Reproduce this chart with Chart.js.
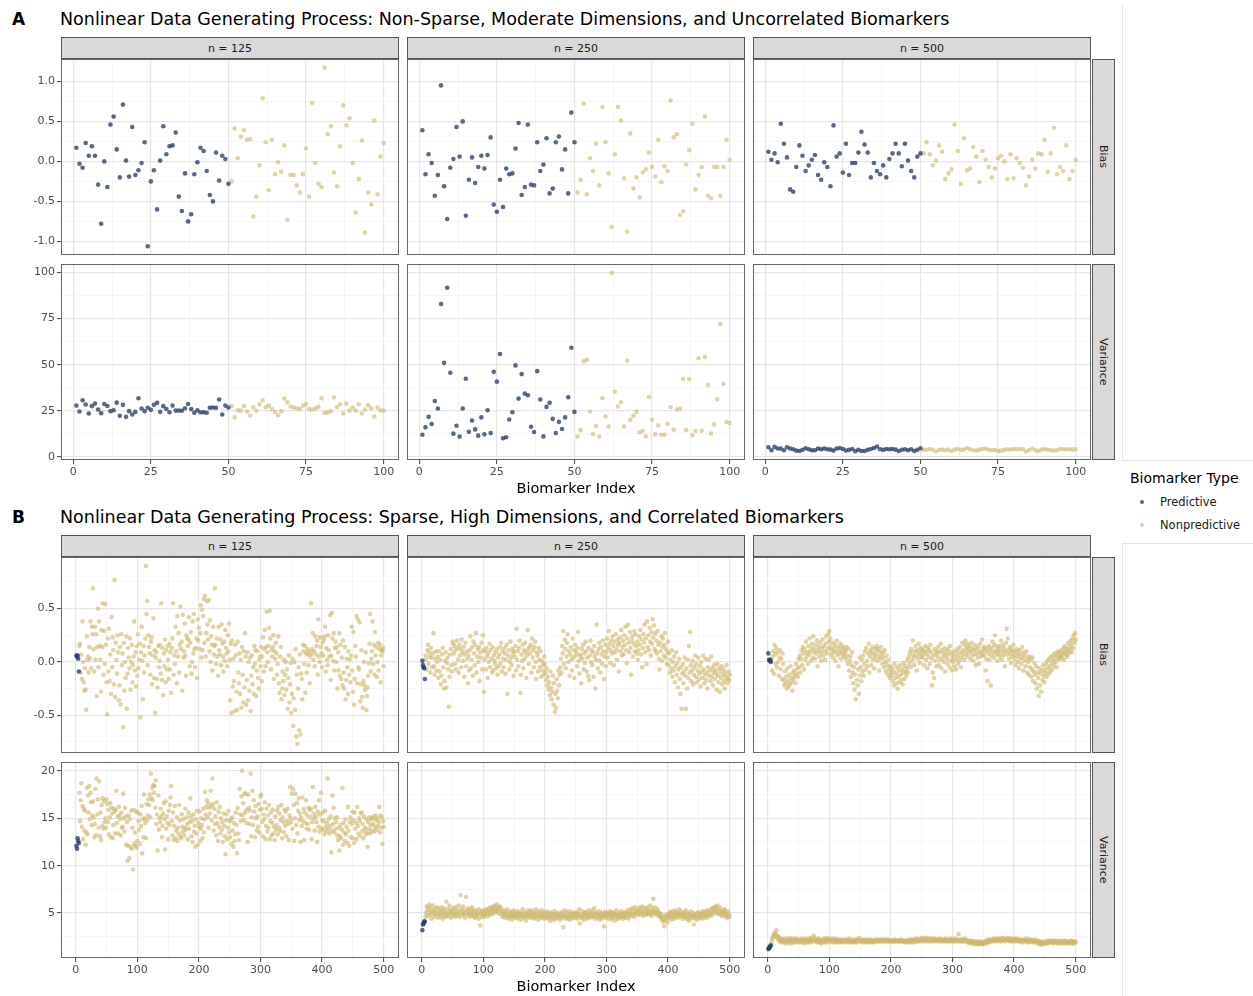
<!DOCTYPE html>
<html>
<head>
<meta charset="utf-8">
<script src="https://cdn.jsdelivr.net/npm/chart.js@4.4.1/dist/chart.umd.min.js"></script>
<style>
  body { margin: 0; background: #fff; font-family: "DejaVu Sans", sans-serif; }
  #page { position: relative; width: 1253px; height: 996px; overflow: hidden; background: #fff; }
  .txt { position: absolute; white-space: nowrap; line-height: 20px; color: #000; }
  .tag { font-weight: bold; font-size: 17px; }
  .title { font-size: 17.5px; }
  .xtitle { font-size: 14.5px; width: 400px; text-align: center; }
  .strip { position: absolute; box-sizing: border-box; background: #d9d9d9; border: 1px solid #555;
           font-size: 11px; color: #1a1a1a; display: flex; align-items: center; justify-content: center; }
  .strip.v span { writing-mode: vertical-rl; }
  .rule { position: absolute; background: #e4e4e4; }
  .dot { position: absolute; width: 4px; height: 4px; border-radius: 50%; }
  canvas { position: absolute; }
</style>
</head>
<body>
<div id="page"></div>
<script>
// ---------------- data ----------------
const columnLabels = ['n = 125', 'n = 250', 'n = 500'];
const rowLabels = ['Bias', 'Variance'];
const seriesNames = ['Predictive', 'Nonpredictive'];
const predictiveCountA = 50;   // biomarkers 1-50 predictive in section A
const predictiveCountB = 5;    // biomarkers 1-5 predictive in section B

const xTicksA = [0, 25, 50, 75, 100];
const xTicksB = [0, 100, 200, 300, 400, 500];
const yTicksABias = [-1, -0.5, 0, 0.5, 1];
const yLabelsABias = ['-1.0', '-0.5', '0.0', '0.5', '1.0'];
const yTicksAVar = [0, 25, 50, 75, 100];
const yLabelsAVar = ['0', '25', '50', '75', '100'];
const yTicksBBias = [-0.5, 0, 0.5];
const yLabelsBBias = ['-0.5', '0.0', '0.5'];
const yTicksBVar = [5, 10, 15, 20];
const yLabelsBVar = ['5', '10', '15', '20'];

// Section A: biomarkers 1..100
const aBias125 = [
  0.17,-0.03,-0.08,0.23,0.07,0.19,0.07,-0.29,-0.78,0.00,
  -0.32,0.46,0.56,0.15,-0.20,0.71,0.01,-0.19,0.43,-0.17,
  -0.11,-0.02,0.24,-1.06,-0.25,-0.11,-0.60,0.01,0.44,0.09,
  0.19,0.20,0.36,-0.44,-0.62,-0.15,-0.75,-0.66,-0.16,-0.01,
  0.17,0.13,-0.12,-0.42,-0.50,0.11,-0.24,0.07,0.03,-0.28,
  -0.25,0.41,0.04,0.31,0.39,0.27,0.28,-0.69,-0.44,-0.05,
  0.79,0.24,-0.36,0.27,-0.16,-0.01,-0.13,0.20,-0.73,-0.17,
  -0.17,-0.30,-0.39,-0.16,0.16,-0.44,0.73,-0.02,-0.28,-0.32,
  1.17,0.34,0.44,-0.14,-0.31,0.19,0.70,0.45,0.54,-0.02,
  -0.64,-0.22,0.26,-0.89,-0.39,-0.54,0.51,-0.41,0.06,0.23];
const aBias250 = [
  0.39,-0.16,0.09,-0.02,-0.43,-0.17,0.95,-0.31,-0.72,-0.08,
  0.03,0.43,0.06,0.50,-0.68,-0.23,0.05,-0.27,-0.07,0.07,
  -0.09,0.08,0.30,-0.54,-0.63,-0.23,-0.57,-0.09,-0.16,-0.15,
  0.16,0.48,-0.42,-0.32,0.46,-0.29,-0.30,0.24,-0.12,-0.04,
  0.29,-0.40,-0.34,0.24,0.31,-0.10,0.15,-0.40,0.61,0.24,
  -0.39,-0.23,0.72,-0.41,0.04,-0.12,0.22,-0.30,0.68,0.24,
  -0.15,-0.82,0.09,0.68,0.51,-0.21,-0.88,0.35,-0.34,-0.20,
  -0.45,-0.14,-0.10,0.11,-0.07,-0.19,0.27,-0.26,-0.06,-0.12,
  0.76,0.30,0.34,-0.67,-0.62,-0.04,0.14,0.47,-0.35,-0.17,
  -0.07,0.56,-0.43,-0.46,-0.07,-0.07,-0.43,-0.07,0.27,0.02];
const aBias500 = [
  0.12,0.02,0.10,-0.01,0.47,0.22,0.05,-0.35,-0.38,-0.07,
  0.20,0.07,-0.12,-0.05,0.02,0.08,-0.17,-0.23,-0.01,-0.07,
  -0.31,0.45,0.06,0.10,-0.14,0.22,-0.17,-0.02,-0.02,0.11,
  0.37,0.21,0.11,-0.20,-0.02,-0.12,-0.16,-0.05,-0.20,0.03,
  0.10,0.22,0.10,-0.06,0.22,0.01,-0.12,-0.20,0.06,0.10,
  0.10,0.24,0.09,-0.05,0.01,0.20,0.12,-0.22,-0.15,-0.10,
  0.46,0.13,-0.28,0.29,-0.11,-0.09,0.18,0.06,-0.26,0.13,
  0.02,-0.07,-0.20,-0.09,0.04,0.07,0.00,-0.22,0.09,-0.21,
  0.04,-0.02,-0.08,-0.30,-0.19,0.02,-0.09,0.10,0.09,0.27,
  -0.13,0.10,0.42,-0.16,-0.07,-0.12,0.20,-0.22,-0.12,0.02];
const aVar125 = [
  27.8,24.6,30.7,28.4,23.5,27.5,28.9,25.7,23.7,28.7,
  27.6,24.8,25.3,29.4,22.3,28.2,21.7,24.8,23.0,24.4,
  31.8,26.2,24.8,26.6,25.5,28.2,29.3,24.4,27.5,26.0,
  24.2,27.8,25.1,25.1,25.0,26.4,28.7,25.9,23.9,25.3,
  24.2,24.2,23.9,26.6,26.8,26.6,31.1,23.0,27.8,26.8,
  27.6,21.4,25.3,25.1,27.5,24.6,22.4,26.9,25.0,28.5,
  30.7,26.9,27.8,25.9,24.4,22.6,24.8,31.6,29.6,27.3,
  26.9,26.4,25.9,27.8,28.7,26.0,25.7,26.2,27.1,31.8,
  23.9,24.1,24.8,32.3,26.9,28.5,23.5,28.9,25.1,26.8,
  25.1,28.5,23.5,25.7,28.0,26.4,21.9,26.8,25.1,25.1];
const aVar250 = [
  12.0,16.0,21.7,17.8,30.3,26.2,82.9,51.0,91.7,45.6,
  12.6,16.9,11.0,26.2,42.4,13.6,19.7,14.9,11.5,21.4,
  12.2,25.3,12.9,46.1,40.8,55.8,10.1,10.6,20.3,24.2,
  49.6,31.6,44.9,34.3,33.4,16.3,13.5,46.5,31.1,11.1,
  27.1,29.3,20.6,12.9,19.0,15.1,21.4,32.3,59.2,24.4,
  11.0,14.5,51.9,52.6,24.6,12.4,16.7,11.0,31.8,21.9,
  16.5,99.8,35.4,27.3,29.6,16.5,52.1,20.1,22.3,24.4,
  13.3,14.0,11.1,32.5,20.1,12.2,17.1,12.0,12.0,18.0,
  26.9,14.7,25.7,26.2,42.2,14.5,42.2,11.7,14.0,53.5,
  14.2,54.2,39.0,12.7,17.6,31.2,72.0,39.5,18.9,18.3];
const aVar500 = [
  5.2,3.6,5.4,4.5,4.5,3.6,5.2,4.5,4.1,3.4,
  3.2,3.8,4.7,4.1,3.6,3.6,4.5,4.1,4.5,4.1,
  3.9,3.4,4.5,4.8,4.3,3.4,3.8,4.3,3.1,3.8,
  3.2,3.2,3.8,4.3,4.8,5.6,4.1,3.8,4.3,4.1,
  4.3,3.9,3.2,3.8,4.1,3.6,4.1,3.2,3.8,4.7,
  3.9,3.8,4.3,3.8,2.9,3.8,3.9,3.6,3.9,3.2,
  3.9,4.3,3.8,3.9,4.8,4.1,3.6,3.4,3.9,4.3,
  4.5,3.8,3.6,3.8,3.2,3.4,3.8,4.1,3.9,4.3,
  4.1,4.3,4.1,2.9,3.6,4.5,3.6,3.2,3.9,4.3,
  3.9,3.6,3.4,3.6,4.3,4.1,4.1,4.1,3.9,4.1];

// Section B: biomarkers 1..500 (first 5 predictive), one line per 25 biomarkers
const bBias125 = [
  .06,.05,.06,.03,-.09,
  .15,.17,-.10,.07,-.16,.38,.00,-.19,-.27,-.06,-.26,-.45,.24,.02,.05,-.10,.14,.03,.38,-.06,
  .33,.26,.69,.12,-.09,.33,.02,.26,-.32,.14,.50,-.05,.38,.15,.02,-.28,.30,.14,.55,-.12,.29,-.02,.54,.16,-.19,
  -.49,.22,-.09,.31,-.18,.07,-.30,.42,-.05,.23,.11,-.21,.77,-.33,.18,.02,-.11,.25,.09,-.36,-.22,.14,-.40,.26,-.03,
  .08,-.61,.18,-.27,.00,-.15,.24,-.44,-.11,.13,.04,-.06,.22,-.26,.00,.16,-.19,-.03,.05,.38,-.08,.09,-.23,.15,-.13,
  .26,-.06,.02,.17,-.52,.09,.33,.01,-.35,.15,-.10,.06,.22,.90,.45,.57,-.03,.25,.14,.08,-.12,.19,.23,-.21,.06,
  .41,-.15,.11,-.48,.04,.09,-.16,-.24,.15,-.05,.01,.16,-.11,.55,-.17,.13,-.31,.08,-.04,.21,-.19,.11,-.07,.15,.02,
  -.16,.17,-.07,.09,-.29,.13,.22,.55,-.12,.06,-.02,.33,.10,-.20,.43,.05,.27,-.10,.16,.52,.12,.19,-.27,.44,.04,
  .10,.36,.06,-.13,.25,.22,.15,.21,.42,-.04,.18,.28,-.11,.00,.38,.08,.45,.12,-.05,.13,.22,-.15,.40,.20,.32,
  .12,.27,.53,.04,.49,.11,.43,.59,.18,.62,.05,.27,.57,.35,.21,.58,.10,.39,.00,.24,.16,-.08,.33,.07,.15,
  .69,.16,-.02,.22,.05,-.13,.33,.11,.07,.21,-.03,.35,.17,.05,-.09,.19,.01,.30,.13,.08,-.04,.25,.10,.36,.02,
  -.36,.17,-.48,.20,-.23,.03,-.18,-.46,.16,.06,-.28,-.45,.19,-.10,-.20,.08,-.30,.02,-.43,.14,-.12,-.38,.10,-.24,.27,
  .05,-.40,-.17,.09,-.36,.00,-.27,.04,-.46,-.13,.06,-.21,-.05,-.30,.15,-.02,.11,-.32,-.08,.10,-.15,-.25,.02,.05,-.04,
  .14,-.18,.05,.23,-.09,.12,.30,-.04,.14,.47,.09,.00,.15,.32,.48,.22,-.07,.11,.05,.14,.25,-.16,.10,.03,.18,
  .08,-.12,-.02,.24,-.20,-.29,.05,.14,-.35,-.25,-.09,-.18,.02,-.31,-.12,.00,-.26,-.07,-.44,-.15,.06,-.38,-.21,-.01,-.48,
  -.30,.03,-.60,-.34,.00,-.45,.12,-.70,-.12,-.77,-.25,-.05,-.64,.07,-.68,-.11,-.16,-.35,.16,.10,-.02,.15,-.29,.08,-.10,
  .12,.07,-.03,.10,-.20,.05,.55,.08,.12,.27,.02,.10,-.04,.24,.07,.15,.20,-.12,.40,.05,.00,.23,.14,.08,-.05,
  .18,.06,.21,.24,.33,-.09,.13,.02,-.03,.25,.11,.05,.44,-.17,.06,.46,.22,.01,.27,-.08,.13,.19,.00,.14,-.25,
  .09,-.08,.27,-.13,.16,-.16,.04,-.22,.20,-.10,-.25,.14,-.35,-.17,.03,-.05,-.30,.10,-.12,.02,-.19,.06,.33,-.08,-.28,
  .28,-.40,-.16,.15,.05,.43,-.20,.40,-.05,-.07,.37,-.37,-.21,.11,-.33,-.43,-.18,.00,-.22,-.26,.09,-.45,-.32,-.24,-.13,
  -.01,.17,.45,-.09,.03,.10,.38,-.02,.16,-.12,.28,.06,.14,-.14,.00,.18,-.08,.12,.16,-.19,.06,.11,.10,.13,-.04];
const bBias250 = [
  .01,-.03,-.05,-.06,-.16,
  .06,.02,-.07,.11,.16,-.02,.09,.05,-.10,.13,.04,-.05,.08,.27,-.04,-.12,.03,.10,-.08,.00,
  .05,-.15,.10,-.09,.02,-.21,-.13,.07,.13,-.05,-.25,-.18,.01,.09,-.24,-.01,.04,-.07,-.42,-.14,.07,.12,-.03,-.09,.19,
  .17,.08,.15,-.02,.11,-.07,.20,.13,.02,-.10,.16,.06,.12,-.05,.21,.09,.01,.14,-.14,.07,.18,-.04,.10,.03,-.20,
  .06,-.08,.11,.24,-.06,.02,.14,-.13,.19,.08,-.03,.16,.27,-.10,.05,.12,.00,.14,-.18,.09,.04,.18,-.07,.25,.11,
  -.28,.02,.10,-.07,.13,.05,-.15,.08,.00,.17,-.05,.11,.03,-.10,.14,-.08,.06,.01,-.02,.09,-.06,.12,-.12,.04,-.04,
  .07,.14,-.01,.18,-.09,.10,.03,-.05,.13,.08,-.11,.02,.16,-.30,.06,.11,-.07,.00,.19,.04,-.03,.12,.08,-.13,.10,
  .05,.15,-.08,.31,.02,.10,-.04,.13,.20,-.29,-.12,.07,.01,.16,-.06,.11,.03,.18,.09,-.15,.06,.30,.12,-.02,.14,
  .08,.16,-.10,.22,.04,.11,-.05,.14,.19,.00,-.16,.09,.06,-.09,.13,.02,-.05,.10,-.14,.01,-.08,-.03,-.12,.05,-.02,
  -.10,-.17,-.06,-.22,-.14,-.26,-.19,-.31,-.09,-.24,-.35,-.28,-.13,-.40,-.20,-.47,-.30,-.43,-.16,-.27,-.34,-.08,-.22,-.12,-.05,
  .03,-.10,.15,.08,.29,-.02,.21,.12,-.06,.05,.18,.26,.00,.10,-.13,.07,.14,.02,-.08,.22,.04,.11,-.15,.16,.06,
  .09,-.04,.13,.28,.01,-.11,.07,.05,-.20,.12,.03,.16,-.07,.08,-.01,.19,.10,-.09,.04,-.13,.13,-.17,.06,.20,.00,
  .11,-.03,.09,-.14,.15,.05,-.25,.02,.35,.08,-.06,.12,.18,.01,-.10,.14,.07,-.02,.20,.10,-.16,.05,.16,-.04,.09,
  .22,.04,.13,.29,.17,-.01,.11,.20,.08,.24,.15,-.03,.19,.09,.26,.12,.02,.21,.16,-.09,.18,.23,.10,.30,.06,
  .14,.20,.07,.25,.16,.33,.11,-.01,.22,.35,.18,.09,.28,.13,-.12,.20,.24,.05,.17,.29,.10,.26,.15,.08,.19,
  .02,.11,.24,.16,.30,.07,.21,-.05,.13,.26,.18,.35,.09,.22,-.02,.38,.14,.25,.11,.32,.19,.06,.28,.17,.40,
  .23,.34,.12,.27,.10,.20,.08,.29,.16,.03,-.07,.18,.10,.24,.01,.14,.22,.06,.16,.27,.04,.12,-.02,.09,.19,
  -.03,.08,-.10,.02,-.06,.11,-.14,.00,-.08,.05,-.19,-.04,.09,-.12,-.01,-.24,-.07,.03,-.16,-.30,-.05,-.44,-.11,-.02,-.20,
  -.09,.04,-.13,-.44,-.06,-.25,.02,-.15,.15,-.10,.28,-.03,-.18,-.08,.01,-.21,-.12,-.05,.06,-.14,-.02,-.19,-.08,.04,-.16,
  -.11,-.04,-.23,.00,-.09,-.15,.06,-.07,-.20,-.12,.03,-.17,-.10,-.25,-.05,.02,-.13,-.08,-.18,.05,-.14,-.06,-.22,-.10,-.03,
  -.16,-.08,-.11,-.26,-.02,-.13,-.19,-.06,-.28,-.09,-.15,-.04,-.21,-.12,-.07,-.18,-.25,-.10,-.14,-.03,-.20,-.16,-.09,-.17,-.12];
const bBias500 = [
  .08,.02,.01,.02,.00,
  .02,-.08,.05,.10,-.11,.16,.07,-.02,.13,-.05,.09,.00,-.13,.04,.11,-.07,.03,-.16,.08,-.02,
  -.17,-.22,-.09,-.20,-.14,-.25,-.06,-.18,-.23,-.12,-.21,-.04,-.15,-.19,-.27,-.10,-.16,-.08,-.13,-.20,-.02,-.11,-.06,-.14,.03,
  -.05,.06,-.10,.03,.11,-.03,.14,.08,-.07,.12,.02,.19,.05,.09,-.02,.15,.07,.22,.10,.01,.13,.17,.04,.24,.09,
  .12,.03,.16,.08,.20,-.04,.11,.14,.05,.18,.09,.01,.13,.21,.06,.15,.10,.02,.17,.24,.08,.12,.26,.19,.29,
  .14,.22,.07,.11,.18,.04,.13,.09,.16,.01,.10,.20,.06,.14,-.04,.08,.12,.17,.03,.10,.15,.07,.13,.05,.09,
  .11,.03,.14,.06,-.02,.12,-.08,.01,.05,-.14,-.03,.09,-.10,-.20,-.05,-.26,-.12,-.35,-.01,-.17,-.22,-.07,-.30,.04,-.13,
  -.05,-.18,.02,-.09,.06,-.13,-.02,.10,-.07,.13,.01,-.04,.08,.17,-.10,.05,.11,-.03,.09,.14,.02,.07,-.06,.04,.12,
  .08,.15,.01,.12,.05,-.08,.10,.03,.14,.07,-.02,.09,.04,-.05,.11,.00,-.09,.06,-.03,-.12,.02,-.07,-.15,-.04,-.10,
  -.13,-.06,-.18,-.09,-.22,-.02,-.15,-.11,-.20,-.05,-.25,-.14,-.08,-.19,-.03,-.12,-.17,-.07,-.21,-.10,-.01,-.16,-.04,-.09,-.13,
  -.06,.02,-.10,.05,-.02,.09,-.05,.12,.01,.07,.20,.04,-.03,.10,.15,.06,-.08,.11,.03,.17,.08,-.01,.13,.05,.10,
  .04,.12,.07,-.03,.10,.15,.02,.08,-.06,.13,.05,.11,-.02,.16,.09,.03,-.22,-.10,.06,-.15,.12,.01,.08,-.04,.10,
  .05,.14,-.03,.09,.02,.17,-.06,.11,.04,.08,.00,.13,-.09,.06,.10,.03,-.02,.12,.07,-.05,.15,.01,.09,-.08,.04,
  .00,.07,-.04,.10,.02,-.07,.05,.12,-.02,.08,.01,.14,.04,-.05,.09,.18,.06,.11,.02,.16,.20,.08,.13,.05,.17,
  .12,.09,.15,.03,.10,.18,.06,.13,.01,.11,.07,.16,-.03,.12,.08,.04,.14,-.02,.09,.17,.05,.10,.21,.07,.13,
  .06,.14,.10,-.08,.03,.12,-.18,.08,.15,.02,.11,-.22,.06,.13,.19,.09,.04,.16,.25,.10,.07,.14,.01,.11,.08,
  .15,.05,.12,.20,.02,.09,.16,.06,.13,-.04,.10,.18,.31,.07,.22,.11,.03,.14,.08,-.01,.12,.05,.10,.16,.06,
  .02,.09,-.03,.12,.05,.00,.08,-.06,.11,.03,.07,-.02,.14,.04,-.08,.09,.01,.06,-.04,.10,-.10,.03,.00,-.12,.05,
  -.05,.02,-.14,-.07,.04,-.18,-.09,-.01,-.12,-.20,-.04,-.25,-.10,-.15,-.32,-.06,-.22,-.11,-.28,-.08,-.17,-.03,-.13,-.19,-.07,
  -.10,-.02,-.14,.01,-.06,-.11,.03,-.04,-.09,.05,-.01,-.07,.02,.06,-.03,.08,.00,.04,-.05,.07,.10,.02,.05,.09,.03,
  .06,.11,.04,.08,.13,.02,.09,.15,.07,.12,.05,.10,.18,.08,.14,.11,.20,.16,.09,.22,.13,.25,.18,.27,.21];
const bVar125 = [
  12.1,11.8,12.9,12.6,12.4,
  17.7,14.7,16.9,18.7,14.1,16.3,12.8,16.0,13.7,15.8,12.2,13.5,18.2,13.3,17.4,15.6,18.4,14.9,17.7,16.7,
  14.3,15.3,16.8,15.1,13.0,14.4,18.1,13.2,19.2,15.4,17.0,14.0,18.9,13.1,15.6,12.7,16.4,14.2,17.1,13.9,16.8,14.6,15.0,14.0,17.0,
  16.5,14.6,15.9,13.3,15.1,16.6,13.0,16.1,15.5,12.9,14.3,16.0,15.7,13.4,15.9,17.9,14.5,15.2,13.4,16.2,15.3,14.9,13.2,15.6,14.0,
  14.1,17.6,15.0,13.6,16.1,15.2,12.2,14.6,10.5,12.1,15.3,10.8,14.9,12.0,15.8,11.8,14.0,9.6,15.9,12.3,13.5,12.1,15.7,11.9,12.6,
  15.6,14.7,13.8,12.3,15.4,14.2,16.3,11.3,14.9,13.0,17.5,15.0,14.5,12.9,16.5,14.8,15.3,17.0,16.4,17.5,15.1,19.7,17.1,18.2,16.9,
  18.5,17.7,18.4,16.1,19.0,14.4,15.4,11.6,17.4,13.8,15.0,14.6,16.0,15.2,13.0,14.2,15.5,16.6,14.9,11.7,16.8,13.9,15.2,14.5,12.8,
  15.8,14.3,16.4,17.2,18.4,14.7,13.2,15.6,12.7,14.2,16.3,12.9,13.7,15.1,12.6,14.0,13.4,16.4,14.8,13.1,12.9,15.4,14.1,13.6,14.9,
  13.2,14.0,16.0,13.8,15.1,14.4,12.8,15.6,13.9,14.6,17.1,15.2,13.1,14.7,12.5,15.4,13.6,14.2,12.0,14.9,13.4,15.8,12.2,14.5,14.1,
  15.7,12.6,13.9,15.0,14.3,12.9,16.0,13.5,14.9,17.8,15.4,16.2,16.9,15.1,16.6,14.0,16.1,15.5,17.9,16.3,14.8,19.2,16.5,13.7,16.0,
  14.4,15.2,13.2,16.7,14.5,12.6,15.7,14.1,16.2,13.4,15.0,13.8,14.6,12.5,15.5,14.2,13.1,11.2,14.8,15.4,12.8,14.0,15.8,13.5,14.7,
  13.0,14.9,12.3,15.1,13.7,12.0,14.5,12.6,13.3,15.6,14.3,11.3,16.1,13.4,12.7,18.1,15.4,14.7,17.3,20.0,15.3,16.6,14.8,17.6,15.6,
  17.6,14.5,15.9,12.5,17.5,16.1,14.4,15.8,19.7,13.1,15.1,17.9,14.3,16.9,15.7,13.0,16.3,15.0,13.7,15.2,14.1,16.5,13.5,15.9,17.3,
  17.5,16.0,14.6,13.1,15.4,14.9,16.7,12.8,14.2,16.0,13.6,15.3,14.0,16.4,12.8,14.7,15.6,13.2,14.5,15.9,13.4,14.1,12.7,15.2,13.8,
  14.3,15.8,13.3,16.2,14.0,15.5,13.7,14.8,16.4,12.9,15.1,14.6,13.5,15.9,14.2,15.7,13.1,14.7,16.0,14.4,12.7,15.3,18.3,15.0,14.6,
  17.6,13.9,18.1,16.4,12.6,15.0,17.6,14.3,16.6,13.4,15.8,17.1,14.8,15.5,12.5,15.1,14.2,17.2,14.7,16.0,12.7,15.6,14.5,16.9,13.9,
  15.3,14.4,16.1,13.8,15.9,15.1,16.0,12.8,14.6,18.3,15.5,15.0,13.7,16.2,15.2,14.6,12.5,15.7,14.1,16.9,13.6,15.4,17.7,13.9,14.8,
  15.6,13.8,14.7,13.3,15.8,14.1,13.6,14.5,19.2,13.9,14.9,13.4,14.2,15.2,11.4,13.7,17.4,14.4,16.1,13.5,15.0,13.9,14.6,15.1,13.2,
  12.7,14.0,11.6,13.1,14.3,12.9,13.8,18.2,12.2,14.5,13.5,12.6,14.9,13.3,14.1,12.4,16.2,13.7,12.1,14.6,15.1,13.0,14.4,15.7,12.9,
  14.8,12.4,15.6,13.9,14.5,12.8,16.2,14.2,13.4,15.0,14.7,13.1,15.5,15.6,13.6,14.4,12.9,15.2,13.8,14.0,13.3,14.9,13.5,12.0,14.6,
  13.9,15.1,13.4,14.3,14.9,13.7,15.0,14.4,15.2,13.6,14.1,15.3,14.8,13.8,15.0,14.2,14.6,16.2,13.5,15.3,14.0,15.1,12.3,14.7,14.1];
const bVar250 = [
  3.2,3.8,3.9,4.1,4.1,
  4.6,5.0,5.7,5.3,4.7,5.6,5.9,5.1,4.8,5.5,4.4,5.2,5.8,4.9,5.3,4.6,5.1,5.5,4.8,5.6,
  5.0,4.5,5.4,4.9,5.2,4.7,5.6,5.0,4.4,5.3,4.8,5.5,5.1,4.6,6.2,5.0,4.7,5.4,4.9,5.8,5.2,4.5,5.3,5.0,4.8,
  5.5,4.9,5.2,4.6,5.6,5.0,4.7,5.3,4.9,5.8,5.1,4.6,6.9,5.4,4.8,5.2,5.7,4.9,5.0,4.5,5.3,6.7,5.1,4.8,5.5,
  4.9,5.2,4.6,5.4,5.0,4.8,5.6,4.7,5.1,5.3,4.5,4.9,5.2,4.6,5.0,4.8,5.4,4.4,5.1,3.7,4.9,5.3,4.6,5.0,4.8,
  5.2,4.6,5.0,5.4,4.9,5.3,4.7,5.1,5.5,4.8,5.2,5.6,5.0,5.4,4.9,5.7,5.3,5.1,5.8,5.5,5.2,5.9,5.4,5.0,5.6,
  5.3,5.7,4.9,5.5,5.2,4.6,5.0,4.8,5.3,4.5,4.9,5.1,4.7,5.4,4.4,4.8,5.2,4.6,5.0,4.7,4.3,5.1,4.8,5.3,4.6,
  4.9,4.5,5.0,4.7,5.2,4.4,4.8,5.1,4.6,4.9,4.3,5.0,4.7,5.4,4.5,4.8,5.1,4.6,4.2,5.0,4.7,4.9,5.3,4.5,4.8,
  5.2,4.6,4.9,5.3,4.5,5.0,4.7,4.4,5.1,4.8,5.4,4.6,4.9,4.3,5.2,4.7,5.0,4.5,4.8,5.3,4.6,4.9,4.4,5.1,4.7,
  4.9,4.5,5.2,4.7,4.4,5.0,4.6,4.8,4.2,5.1,4.7,4.5,4.9,4.3,4.8,5.2,4.6,4.4,4.9,4.7,5.0,4.5,4.8,4.6,4.3,
  4.8,5.1,4.5,4.9,3.5,4.7,5.3,4.6,4.4,5.0,4.8,4.5,5.2,4.7,4.3,4.9,4.6,5.1,4.4,4.8,4.7,5.0,4.5,4.9,4.6,
  5.1,4.7,4.4,5.0,4.8,5.4,3.9,4.6,4.9,4.5,5.2,4.7,4.3,5.0,4.8,4.6,5.1,4.4,4.9,4.7,5.3,4.5,4.8,5.0,4.6,
  4.9,5.3,4.6,4.8,5.5,4.4,5.0,4.7,4.9,5.1,4.5,4.8,4.3,5.2,4.7,4.9,4.6,4.4,5.0,4.7,3.6,4.8,5.1,4.5,4.9,
  4.7,5.0,4.4,4.8,5.2,4.6,4.9,4.3,5.1,4.7,4.5,5.0,4.8,4.2,4.9,5.3,4.6,4.8,4.4,5.0,4.7,4.5,4.9,5.2,4.6,
  4.8,4.4,5.1,4.7,4.9,4.5,5.0,4.6,5.3,4.8,4.4,5.1,4.9,5.4,4.7,5.0,5.5,4.8,5.2,4.6,5.6,5.0,4.9,5.3,5.1,
  5.4,4.8,5.2,5.6,4.9,5.3,5.0,5.7,4.7,5.2,5.5,4.9,5.1,5.4,4.8,5.6,5.0,5.3,4.9,5.2,5.8,5.0,4.7,5.5,5.1,
  6.5,5.3,4.9,5.6,5.0,5.2,4.8,5.4,5.1,4.7,5.0,4.6,4.9,4.5,4.3,4.7,4.1,4.4,3.6,4.6,4.2,4.8,4.4,4.0,4.7,
  4.9,4.5,5.1,4.7,4.3,5.2,4.8,4.6,5.0,4.4,5.3,4.9,4.7,5.1,4.5,5.0,4.8,5.4,4.6,4.9,5.2,4.7,5.0,4.4,4.8,
  5.1,4.6,4.9,5.3,4.4,4.8,5.0,4.5,4.2,4.9,4.7,5.2,4.4,4.8,4.6,5.0,3.8,4.7,4.5,4.9,4.3,4.8,5.1,4.6,4.4,
  4.8,5.0,4.5,4.9,4.7,5.2,4.4,4.8,5.1,4.6,5.0,4.7,5.3,4.5,4.9,5.2,4.8,5.0,5.4,4.7,5.1,5.5,4.9,5.3,5.6,
  5.2,5.7,5.0,5.4,5.8,4.9,5.3,5.1,5.6,4.8,5.2,5.0,4.7,5.3,4.9,5.1,5.4,4.6,5.0,4.8,4.5,5.2,4.7,4.9,4.6];
const bVar500 = [
  1.2,1.3,1.4,1.5,1.6,
  1.9,2.2,2.4,2.6,2.8,2.5,2.9,2.7,3.2,2.6,2.3,2.5,2.1,2.4,2.0,2.2,1.9,2.3,2.1,2.0,
  2.2,1.9,2.1,2.3,1.8,2.0,2.2,2.1,1.9,2.4,2.0,2.2,1.8,2.1,2.3,2.0,1.9,2.2,2.1,2.0,2.3,1.9,2.1,2.2,2.0,
  2.1,1.9,2.2,2.0,2.3,1.9,2.1,2.0,2.2,1.8,2.1,2.3,2.0,1.9,2.2,2.1,2.0,2.3,1.9,2.2,2.4,2.0,2.1,2.2,2.6,
  2.3,2.1,2.0,2.2,1.9,2.1,2.3,2.0,1.9,2.2,2.1,1.8,2.0,2.2,2.1,1.9,2.3,2.0,2.2,2.1,1.9,2.4,2.0,2.2,2.1,
  2.2,2.0,2.1,2.3,1.9,2.2,2.0,2.1,2.3,2.0,1.9,2.2,2.1,2.0,2.2,1.9,2.1,2.0,2.2,2.1,1.9,2.0,2.2,2.1,2.0,
  2.1,2.0,2.2,1.9,2.1,2.0,2.3,2.1,1.9,2.0,2.2,2.1,2.0,1.9,2.1,2.2,2.0,2.1,1.9,2.0,2.2,2.1,2.4,2.0,2.1,
  2.0,2.2,2.1,1.9,2.0,2.1,2.2,2.0,1.9,2.1,2.0,2.2,2.1,2.0,1.9,2.1,2.0,2.2,2.1,2.0,2.1,1.9,2.0,2.1,2.2,
  2.1,2.0,2.1,2.2,2.0,2.1,2.0,2.2,2.1,2.0,2.1,2.2,2.0,2.1,2.1,2.0,2.2,2.1,2.0,2.1,2.2,2.0,2.1,2.0,2.1,
  2.1,2.0,2.1,2.1,2.0,2.2,2.1,2.0,2.1,2.0,2.1,2.1,2.0,2.1,2.0,2.2,2.1,2.0,2.1,2.0,2.1,1.9,2.0,2.1,2.0,
  1.9,2.1,2.0,2.2,1.9,2.1,2.0,2.1,2.2,2.0,1.9,2.1,2.2,2.0,2.1,2.3,2.0,2.2,2.1,2.0,2.2,2.1,2.3,2.2,2.0,
  2.4,2.1,2.2,2.0,2.3,2.1,2.2,2.4,2.0,2.2,2.1,2.3,2.0,2.2,2.1,2.3,2.2,2.0,2.1,2.2,2.3,2.1,2.0,2.2,2.1,
  2.2,2.0,2.1,2.3,2.1,2.2,2.0,2.1,2.2,2.1,2.0,2.2,2.1,2.3,2.0,2.1,2.2,2.0,2.1,2.2,2.0,2.1,2.3,2.1,2.0,
  2.1,2.2,2.0,2.1,2.3,2.1,2.0,2.2,2.1,2.8,2.0,2.2,2.1,2.0,2.2,2.1,2.0,2.1,2.3,2.1,2.0,2.2,2.0,2.1,1.9,
  2.0,1.9,2.1,1.8,2.0,1.9,2.1,1.8,2.0,1.9,1.8,2.0,1.7,1.9,2.0,1.8,1.9,1.7,2.0,1.8,1.9,2.0,1.8,1.7,1.9,
  1.8,1.9,2.0,1.8,2.1,1.9,2.0,2.2,1.9,2.1,2.0,2.2,2.1,2.0,2.2,2.1,2.3,2.0,2.2,2.1,2.3,2.2,2.0,2.1,2.2,
  2.3,2.1,2.2,2.0,2.2,2.4,2.1,2.3,2.2,2.0,2.2,2.1,2.3,2.2,2.1,2.4,2.2,2.0,2.1,2.3,2.2,2.1,2.0,2.2,2.3,
  2.1,2.2,2.0,2.1,2.3,2.1,2.0,2.2,2.1,2.0,2.2,2.1,1.9,2.1,2.0,2.2,2.1,2.0,2.1,2.3,2.0,2.1,1.9,2.0,2.2,
  2.1,2.0,2.2,2.1,1.9,2.0,2.1,2.0,2.2,2.1,1.9,2.0,1.8,2.1,1.9,2.0,1.7,1.9,1.8,2.0,1.7,1.9,1.8,2.0,1.8,
  1.9,1.8,2.0,1.9,2.1,1.8,2.0,1.9,2.1,2.0,1.9,2.1,2.0,1.8,2.0,1.9,2.1,2.0,1.9,1.8,2.0,1.9,2.1,1.8,2.0,
  1.9,2.0,1.8,2.1,1.9,2.0,1.8,1.9,2.1,2.0,1.8,1.9,2.0,1.9,1.8,2.0,1.9,2.1,1.8,1.9,2.0,1.8,1.9,2.0,1.9];

// ---------------- layout & style ----------------
const predColor = 'rgba(40, 62, 104, 0.78)';
const nonColor = 'rgba(206, 184, 110, 0.62)';
const colLeft = [61, 407, 753];
const panelW = 338, panelH = 196;
const FONT = 'DejaVu Sans';

const page = document.getElementById('page');

function addDiv(cls, css, text) {
  const d = document.createElement('div');
  d.className = cls;
  Object.assign(d.style, css);
  if (text !== undefined) {
    if (cls.includes('v')) { const s = document.createElement('span'); s.textContent = text; d.appendChild(s); }
    else d.textContent = text;
  }
  page.appendChild(d);
  return d;
}

function near(list, v) { return list.some(m => Math.abs(m - v) < 1e-9); }

function minorTicks(majors, min, max) {
  const step = majors[1] - majors[0];
  const out = [];
  for (let v = majors[0] - step / 2; v <= max; v += step) {
    if (v >= min) out.push(v);
  }
  return out;
}

function axisOpts(min, max, majors, labels, showLabels, vertical, size) {
  const ticks = majors.concat(minorTicks(majors, min, max)).sort((a, b) => a - b);
  return {
    type: 'linear', min: min, max: max,
    afterBuildTicks: s => { s.ticks = ticks.map(v => ({ value: v })); },
    afterFit: s => {
      if (vertical) s.width = size; else s.height = size;
      s.paddingLeft = s.paddingRight = s.paddingTop = s.paddingBottom = 0;
    },
    border: { display: false },
    grid: {
      color: c => (c.tick && near(majors, c.tick.value)) ? '#e6e6e6' : '#f2f2f2',
      lineWidth: c => (c.tick && near(majors, c.tick.value)) ? 1.2 : 0.7,
      drawTicks: showLabels,
      tickLength: 4,
      tickWidth: 1,
      tickColor: c => (c.tick && near(majors, c.tick.value)) ? '#444444' : 'rgba(0,0,0,0)'
    },
    ticks: {
      display: showLabels, autoSkip: false, maxRotation: 0, padding: 2,
      color: '#4d4d4d', font: { family: FONT, size: 11 },
      callback: v => { const k = majors.findIndex(m => Math.abs(m - v) < 1e-9); return k >= 0 ? labels[k] : ''; }
    }
  };
}

const panelBorder = {
  id: 'panelBorder',
  afterDraw(chart) {
    const a = chart.chartArea, ctx = chart.ctx;
    ctx.save();
    ctx.strokeStyle = '#666666';
    ctx.lineWidth = 1;
    ctx.strokeRect(Math.round(a.left) + 0.5, Math.round(a.top) + 0.5,
                   Math.round(a.right - a.left) - 1, Math.round(a.bottom - a.top) - 1);
    ctx.restore();
  }
};

function buildPanel(p) {
  const yw = p.col === 0 ? 40 : 0;
  const xh = p.bottom ? 22 : 0;
  const canvas = document.createElement('canvas');
  canvas.width = panelW + yw;
  canvas.height = panelH + xh;
  canvas.style.left = (colLeft[p.col] - yw) + 'px';
  canvas.style.top = p.top + 'px';
  canvas.style.width = canvas.width + 'px';
  canvas.style.height = canvas.height + 'px';
  page.appendChild(canvas);

  const pred = [], non = [];
  p.values.forEach((v, i) => (i < p.predCount ? pred : non).push({ x: i + 1, y: v }));

  new Chart(canvas, {
    type: 'scatter',
    data: {
      datasets: [
        { label: seriesNames[0], data: pred, backgroundColor: predColor, pointRadius: 2.3, pointBorderWidth: 0, borderWidth: 0 },
        { label: seriesNames[1], data: non, backgroundColor: nonColor, pointRadius: 2.3, pointBorderWidth: 0, borderWidth: 0 }
      ]
    },
    options: {
      responsive: false, animation: false, devicePixelRatio: 1,
      layout: { padding: 0, autoPadding: false },
      events: [],
      plugins: { legend: { display: false }, tooltip: { enabled: false } },
      scales: {
        x: axisOpts(p.x[0], p.x[1], p.xTicks, p.xTicks.map(String), p.bottom, false, xh),
        y: axisOpts(p.y[0], p.y[1], p.yTicks, p.yLabels, p.col === 0, true, yw)
      }
    },
    plugins: [panelBorder]
  });
}

// ---------------- section builder ----------------
function buildSection(cfg) {
  addDiv('txt tag', { left: '12px', top: (cfg.titleY - 10) + 'px' }, cfg.tag);
  addDiv('txt title', { left: '60px', top: (cfg.titleY - 10) + 'px' }, cfg.title);
  columnLabels.forEach((lab, c) => {
    addDiv('strip', { left: colLeft[c] + 'px', top: cfg.stripTop + 'px', width: panelW + 'px', height: '22px' }, lab);
  });
  rowLabels.forEach((lab, r) => {
    addDiv('strip v', { left: '1092px', top: cfg.rowTop[r] + 'px', width: '23px', height: panelH + 'px' }, lab);
  });
  cfg.rows.forEach((row, r) => {
    row.values.forEach((vals, c) => buildPanel({
      col: c, bottom: r === 1, top: cfg.rowTop[r], values: vals, predCount: cfg.predCount,
      x: cfg.xRange, xTicks: cfg.xTicks, y: row.yRange, yTicks: row.yTicks, yLabels: row.yLabels
    }));
  });
  addDiv('txt xtitle', { left: (576 - 200) + 'px', top: (cfg.xTitleY - 10) + 'px' }, 'Biomarker Index');
}

buildSection({
  tag: 'A',
  title: 'Nonlinear Data Generating Process: Non-Sparse, Moderate Dimensions, and Uncorrelated Biomarkers',
  titleY: 19, stripTop: 37, rowTop: [59, 264], xTitleY: 488,
  predCount: predictiveCountA, xRange: [-3.95, 104.95], xTicks: xTicksA,
  rows: [
    { values: [aBias125, aBias250, aBias500], yRange: [-1.17, 1.28], yTicks: yTicksABias, yLabels: yLabelsABias },
    { values: [aVar125, aVar250, aVar500], yRange: [-1.7, 104.6], yTicks: yTicksAVar, yLabels: yLabelsAVar }
  ]
});

buildSection({
  tag: 'B',
  title: 'Nonlinear Data Generating Process: Sparse, High Dimensions, and Correlated Biomarkers',
  titleY: 517, stripTop: 535, rowTop: [557, 762], xTitleY: 986,
  predCount: predictiveCountB, xRange: [-23.95, 524.95], xTicks: xTicksB,
  rows: [
    { values: [bBias125, bBias250, bBias500], yRange: [-0.854, 0.984], yTicks: yTicksBBias, yLabels: yLabelsBBias },
    { values: [bVar125, bVar250, bVar500], yRange: [0.26, 20.94], yTicks: yTicksBVar, yLabels: yLabelsBVar }
  ]
});

// ---------------- guide area & legend ----------------
addDiv('rule', { left: '1122px', top: '5px', width: '1px', height: '456px' });
addDiv('rule', { left: '1122px', top: '460px', width: '131px', height: '1px' });
addDiv('rule', { left: '1122px', top: '543px', width: '131px', height: '1px' });
addDiv('rule', { left: '1122px', top: '543px', width: '1px', height: '453px' });

addDiv('txt', { left: '1130px', top: '468px', fontSize: '14px' }, 'Biomarker Type');
[predColor, nonColor].forEach((col, i) => {
  const cy = 502 + i * 23;
  addDiv('dot', { left: '1140px', top: (cy - 2) + 'px', background: col });
  addDiv('txt', { left: '1160px', top: (cy - 10) + 'px', fontSize: '11.5px', color: '#1a1a1a' }, seriesNames[i]);
});
</script>
</body>
</html>
